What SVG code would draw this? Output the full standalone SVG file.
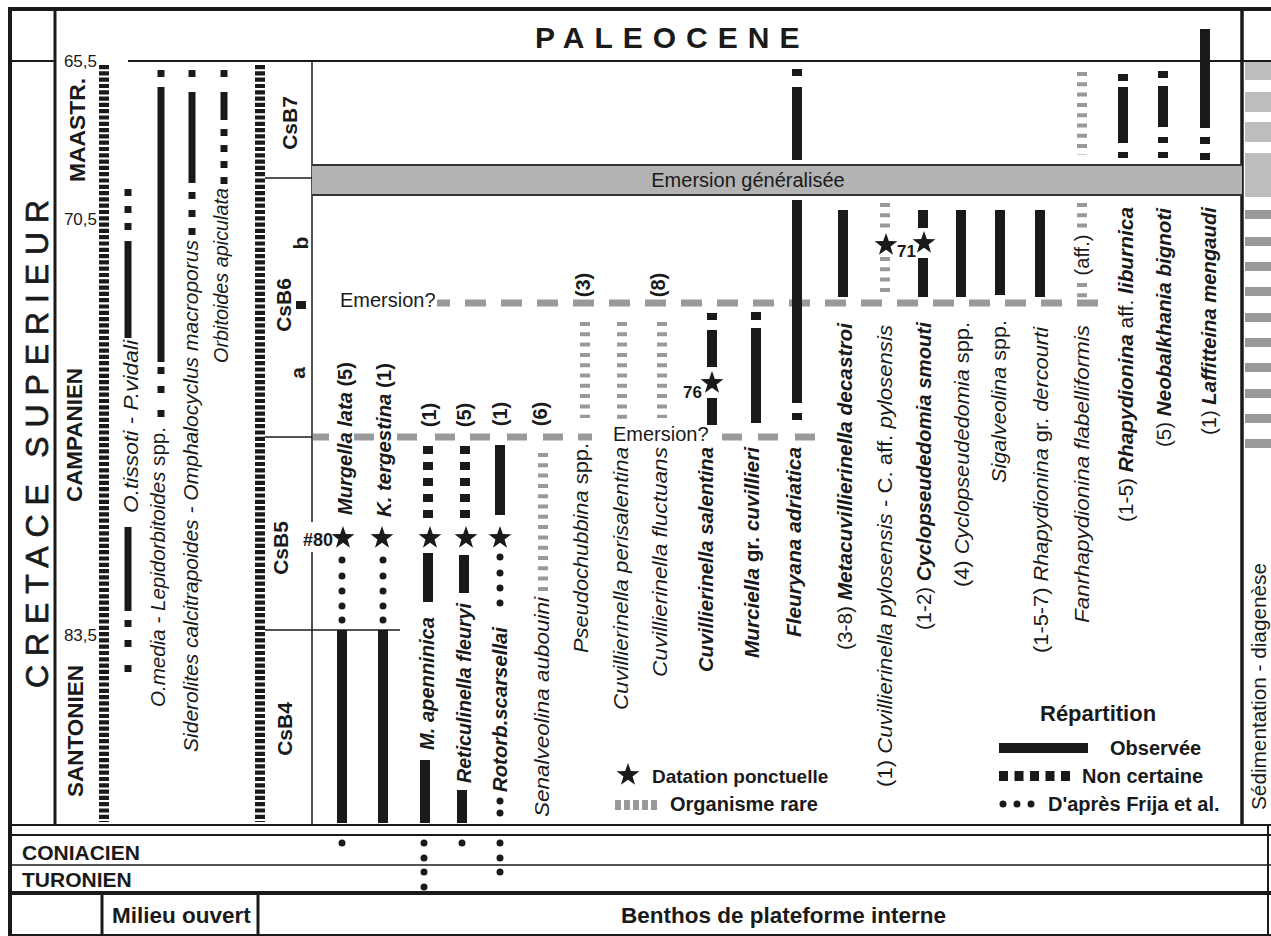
<svg xmlns="http://www.w3.org/2000/svg" width="1271" height="936" viewBox="0 0 1271 936">
<defs>
<style>
.f{font-family:"Liberation Sans",Arial,Helvetica,sans-serif;fill:#1a1a1a}
.ln{stroke:#1a1a1a;fill:none}
.k{fill:#1a1a1a}
.bd{stroke:#1a1a1a;stroke-width:10;stroke-dasharray:4.2 2.1;fill:none}
.gd{stroke:#999;stroke-width:10;stroke-dasharray:4 6.3;fill:none}
.em{stroke:#999;stroke-width:7;fill:none}
.lb{font-size:20px}
.i{font-style:italic}
.u{font-style:normal}
.b{font-weight:bold}
.r{font-weight:normal}
.st{font-size:22px;font-weight:bold}
.cs{font-size:21px;font-weight:bold}
</style>
<path id="star" d="M0,-12L2.82,-3.88L11.41,-3.71L4.57,1.48L7.05,9.71L0,4.8L-7.05,9.71L-4.57,1.48L-11.41,-3.71L-2.82,-3.88Z" fill="#1a1a1a"/>
</defs>
<rect width="1271" height="936" fill="#fff"/>

<g id="frame">
<line class="ln" x1="8" y1="9" x2="1271" y2="9" stroke-width="4"/>
<line class="ln" x1="10" y1="9" x2="10" y2="936" stroke-width="4"/>
<line class="ln" x1="55" y1="9" x2="55" y2="825" stroke-width="3"/>
<line class="ln" x1="10" y1="61" x2="55" y2="61" stroke-width="2"/>
<line class="ln" x1="128" y1="61" x2="1271" y2="61" stroke-width="1.8"/>
<line class="ln" x1="1242" y1="9" x2="1242" y2="825" stroke-width="3.5"/>
<line class="ln" x1="10" y1="825" x2="1271" y2="825" stroke-width="2"/>
<line class="ln" x1="10" y1="835" x2="1271" y2="835" stroke-width="2"/>
<line class="ln" x1="10" y1="865" x2="1271" y2="865" stroke-width="1.5"/>
<line class="ln" x1="10" y1="893" x2="1271" y2="893" stroke-width="4"/>
<line class="ln" x1="10" y1="935" x2="1271" y2="935" stroke-width="2"/>
<line class="ln" x1="102" y1="893" x2="102" y2="936" stroke-width="3"/>
<line class="ln" x1="258" y1="893" x2="258" y2="936" stroke-width="3"/>
<line class="ln" x1="1268" y1="825" x2="1268" y2="936" stroke-width="2"/>
<line class="ln" x1="312" y1="61" x2="312" y2="522" stroke-width="1.5"/>
<line class="ln" x1="312" y1="552" x2="312" y2="825" stroke-width="1.5"/>
<line class="ln" x1="265" y1="178" x2="312" y2="178" stroke-width="1.5"/>
<line class="ln" x1="265" y1="437" x2="312" y2="437" stroke-width="1.5"/>
<line class="ln" x1="265" y1="630" x2="400" y2="630" stroke-width="1.5"/>
</g>

<g id="titles">
<text class="f b" x="535" y="48" font-size="30" letter-spacing="10">PALEOCENE</text>
<text class="f" font-size="32" stroke="#1a1a1a" stroke-width="0.7" transform="translate(48,688) rotate(-90)" textLength="488" lengthAdjust="spacing">CRETACE SUPERIEUR</text>
<text class="f st" transform="translate(85,182) rotate(-90)" textLength="104" lengthAdjust="spacingAndGlyphs">MAASTR.</text>
<text class="f st" transform="translate(82,502) rotate(-90)" textLength="134" lengthAdjust="spacingAndGlyphs">CAMPANIEN</text>
<text class="f st" transform="translate(83,797) rotate(-90)" textLength="132" lengthAdjust="spacingAndGlyphs">SANTONIEN</text>
<text class="f" font-size="17" x="97" y="67" text-anchor="end">65,5</text>
<text class="f" font-size="17" x="97" y="225" text-anchor="end">70,5</text>
<text class="f" font-size="17" x="97" y="641" text-anchor="end">83,5</text>
<text class="f b" font-size="21" x="22" y="860">CONIACIEN</text>
<text class="f b" font-size="21" x="22" y="887">TURONIEN</text>
<text class="f b" font-size="22.5" x="112" y="923">Milieu ouvert</text>
<text class="f b" font-size="22.5" x="621" y="923">Benthos de plateforme interne</text>
</g>

<g id="csb-zones">
<text class="f cs" transform="translate(297,123) rotate(-90)" text-anchor="middle">CsB7</text>
<text class="f cs" transform="translate(291,305) rotate(-90)" text-anchor="middle">CsB6</text>
<text class="f cs" transform="translate(288,548) rotate(-90)" text-anchor="middle">CsB5</text>
<text class="f cs" transform="translate(292,729) rotate(-90)" text-anchor="middle">CsB4</text>
<text class="f cs" font-size="20" transform="translate(308,243) rotate(-90)" text-anchor="middle">b</text>
<text class="f cs" font-size="20" transform="translate(305,373) rotate(-90)" text-anchor="middle">a</text>
<rect class="k" x="296" y="301" width="10" height="8"/>
<text class="f b" font-size="18" x="303" y="546">#80</text>
</g>

<g id="emersion">
<rect x="312" y="165" width="930" height="30" fill="#b3b3b3"/>
<line x1="312" y1="165" x2="1242" y2="165" stroke="#333" stroke-width="2"/>
<line x1="312" y1="195" x2="1242" y2="195" stroke="#333" stroke-width="2"/>
<text class="f" font-size="20" x="748" y="187" text-anchor="middle" fill="#2a2a2a">Emersion généralisée</text>
</g>

<g id="connectors">
<path class="em" d="M437,303H1098" stroke-dasharray="21 15" stroke-dashoffset="8"/>
<path class="em" d="M313,437h16M354,437h20M397,437h20M435,437h20M470,437h20M507,437h20M543,437h20M578,437h14M722,437h20M758,437h20M795,437h20"/>
<text class="f" font-size="20" x="340" y="307">Emersion?</text>
<text class="f" font-size="20" x="613" y="441">Emersion?</text>
</g>

<g id="sediment">
<rect x="1245" y="62" width="26" height="18" fill="#bdbdbd"/>
<rect x="1245" y="92" width="26" height="20" fill="#bdbdbd"/>
<rect x="1245" y="122" width="26" height="20" fill="#bdbdbd"/>
<rect x="1245" y="153" width="26" height="44" fill="#bdbdbd"/>
<g fill="#999">
<rect x="1245" y="210" width="26" height="9"/><rect x="1245" y="237" width="26" height="9"/>
<rect x="1245" y="262" width="26" height="9"/><rect x="1245" y="287" width="26" height="9"/>
<rect x="1245" y="313" width="26" height="9"/><rect x="1245" y="338" width="26" height="9"/>
<rect x="1245" y="363" width="26" height="9"/><rect x="1245" y="389" width="26" height="9"/>
<rect x="1245" y="414" width="26" height="9"/><rect x="1245" y="439" width="26" height="9"/>
</g>
<text class="f" font-size="20" transform="translate(1266,810) rotate(-90)" textLength="247" lengthAdjust="spacingAndGlyphs">Sédimentation - diagenèse</text>
</g>

<g id="col-bigleft"><line class="bd" x1="104" y1="65" x2="104" y2="822"/></g>
<g id="col-bigright"><line class="bd" x1="260" y1="65" x2="260" y2="822"/></g>

<g id="col-otissoti">
<rect class="k" x="124.5" y="189" width="7" height="7"/><rect class="k" x="124.5" y="206" width="7" height="7"/><rect class="k" x="124.5" y="223" width="7" height="7"/>
<rect class="k" x="124.5" y="241" width="7" height="97"/>
<rect class="k" x="124.5" y="527" width="7" height="84"/>
<rect class="k" x="124.5" y="620" width="7" height="7"/><rect class="k" x="124.5" y="640" width="7" height="7"/><rect class="k" x="124.5" y="665" width="7" height="7"/>
<text class="f lb i" transform="translate(138,513) rotate(-90)" textLength="173" lengthAdjust="spacingAndGlyphs">O.tissoti - P.vidali</text>
</g>
<g id="col-omedia">
<rect class="k" x="157.5" y="70" width="7" height="7"/>
<rect class="k" x="157.5" y="87" width="7" height="275"/>
<rect class="k" x="157.5" y="367" width="7" height="7"/><rect class="k" x="157.5" y="386" width="7" height="7"/><rect class="k" x="157.5" y="410" width="7" height="7"/>
<text class="f lb i" transform="translate(165,707) rotate(-90)" textLength="280" lengthAdjust="spacingAndGlyphs">O.media - Lepidorbitoides <tspan class="u">spp.</tspan></text>
</g>
<g id="col-siderolites">
<rect class="k" x="188.5" y="70" width="7" height="7"/>
<rect class="k" x="188.5" y="92" width="7" height="91"/>
<rect class="k" x="188.5" y="192" width="7" height="7"/><rect class="k" x="188.5" y="210" width="7" height="7"/><rect class="k" x="188.5" y="228" width="7" height="7"/>
<text class="f lb i" transform="translate(198,752) rotate(-90)" textLength="512" lengthAdjust="spacingAndGlyphs">Siderolites calcitrapoides - Omphalocyclus macroporus</text>
</g>
<g id="col-orbitoides">
<rect class="k" x="220.5" y="70" width="7" height="7"/>
<rect class="k" x="220.5" y="92" width="7" height="28"/>
<rect class="k" x="220.5" y="129" width="7" height="7"/><rect class="k" x="220.5" y="145" width="7" height="7"/><rect class="k" x="220.5" y="161" width="7" height="7"/><rect class="k" x="220.5" y="177" width="7" height="7"/>
<text class="f lb i" transform="translate(228,363) rotate(-90)" textLength="175" lengthAdjust="spacingAndGlyphs">Orbitoides apiculata</text>
</g>

<g id="col-murgella">
<rect class="k" x="337" y="630" width="10" height="193"/>
<circle class="k" cx="342" cy="560" r="3.5"/><circle class="k" cx="342" cy="576" r="3.5"/><circle class="k" cx="342" cy="591" r="3.5"/><circle class="k" cx="342" cy="606" r="3.5"/><circle class="k" cx="342" cy="620" r="3.5"/>
<use href="#star" x="343" y="538"/>
<circle class="k" cx="342" cy="843" r="3.5"/>
<text class="f lb i b" transform="translate(352,515) rotate(-90)" textLength="153" lengthAdjust="spacingAndGlyphs">Murgella lata <tspan class="u">(5)</tspan></text>
</g>
<g id="col-ktergestina">
<rect class="k" x="378" y="630" width="10" height="193"/>
<circle class="k" cx="383" cy="560" r="3.5"/><circle class="k" cx="383" cy="576" r="3.5"/><circle class="k" cx="383" cy="591" r="3.5"/><circle class="k" cx="383" cy="606" r="3.5"/><circle class="k" cx="383" cy="620" r="3.5"/>
<use href="#star" x="382" y="538"/>
<text class="f lb i b" transform="translate(391,517) rotate(-90)" textLength="154" lengthAdjust="spacingAndGlyphs">K. tergestina <tspan class="u">(1)</tspan></text>
</g>
<g id="col-mapenninica">
<rect class="k" x="423" y="446" width="10" height="8"/><rect class="k" x="423" y="462" width="10" height="8"/><rect class="k" x="423" y="478" width="10" height="8"/><rect class="k" x="423" y="494" width="10" height="8"/><rect class="k" x="423" y="510" width="10" height="8"/>
<use href="#star" x="430" y="538"/>
<rect class="k" x="423" y="553" width="10" height="49"/>
<rect class="k" x="420" y="760" width="10" height="63"/>
<circle class="k" cx="424" cy="843" r="3.5"/><circle class="k" cx="424" cy="858" r="3.5"/><circle class="k" cx="424" cy="872" r="3.5"/><circle class="k" cx="424" cy="887" r="3.5"/>
<text class="f lb i b" transform="translate(434,750) rotate(-90)" textLength="133" lengthAdjust="spacingAndGlyphs">M. apenninica</text>
<text class="f lb b" transform="translate(436,415) rotate(-90)" text-anchor="middle">(1)</text>
</g>
<g id="col-reticulinella">
<rect class="k" x="460" y="446" width="10" height="8"/><rect class="k" x="460" y="462" width="10" height="8"/><rect class="k" x="460" y="478" width="10" height="8"/><rect class="k" x="460" y="494" width="10" height="8"/><rect class="k" x="460" y="510" width="10" height="8"/>
<use href="#star" x="466" y="538"/>
<rect class="k" x="459" y="555" width="10" height="38"/>
<rect class="k" x="457" y="790" width="10" height="33"/>
<circle class="k" cx="462" cy="843" r="3.5"/>
<text class="f lb i b" transform="translate(471,783) rotate(-90)" textLength="180" lengthAdjust="spacingAndGlyphs">Reticulinella fleuryi</text>
<text class="f lb b" transform="translate(471,415) rotate(-90)" text-anchor="middle">(5)</text>
</g>
<g id="col-rotorb">
<rect class="k" x="495" y="445" width="10" height="70"/>
<use href="#star" x="500" y="538"/>
<circle class="k" cx="500" cy="557" r="3.5"/><circle class="k" cx="500" cy="573" r="3.5"/><circle class="k" cx="500" cy="588" r="3.5"/><circle class="k" cx="500" cy="603" r="3.5"/>
<circle class="k" cx="500" cy="801" r="3.5"/><circle class="k" cx="500" cy="813" r="3.5"/>
<circle class="k" cx="500" cy="843" r="3.5"/><circle class="k" cx="500" cy="858" r="3.5"/><circle class="k" cx="500" cy="872" r="3.5"/>
<text class="f lb i b" transform="translate(507,792) rotate(-90)" textLength="165" lengthAdjust="spacingAndGlyphs">Rotorb.scarsellai</text>
<text class="f lb b" transform="translate(507,414) rotate(-90)" text-anchor="middle">(1)</text>
</g>
<g id="col-senalveolina">
<line class="gd" x1="543" y1="453" x2="543" y2="592"/>
<text class="f lb i" transform="translate(549,817) rotate(-90)" textLength="220" lengthAdjust="spacingAndGlyphs">Senalveolina aubouini</text>
<text class="f lb b" transform="translate(547,414) rotate(-90)" text-anchor="middle">(6)</text>
</g>
<g id="col-pseudochubbina">
<line class="gd" x1="585" y1="322" x2="585" y2="418"/>
<text class="f lb i" transform="translate(588,653) rotate(-90)" textLength="210" lengthAdjust="spacingAndGlyphs">Pseudochubbina <tspan class="u">spp.</tspan></text>
<text class="f lb b" transform="translate(590,285) rotate(-90)" text-anchor="middle">(3)</text>
</g>
<g id="col-perisalentina">
<line class="gd" x1="622" y1="322" x2="622" y2="420"/>
<text class="f lb i" transform="translate(628,710) rotate(-90)" textLength="263" lengthAdjust="spacingAndGlyphs">Cuvillierinella perisalentina</text>
</g>
<g id="col-fluctuans">
<line class="gd" x1="662" y1="322" x2="662" y2="418"/>
<text class="f lb i" transform="translate(667,677) rotate(-90)" textLength="230" lengthAdjust="spacingAndGlyphs">Cuvillierinella fluctuans</text>
<text class="f lb b" transform="translate(665,285) rotate(-90)" text-anchor="middle">(8)</text>
</g>
<g id="col-salentina">
<rect class="k" x="707" y="313" width="10" height="7"/>
<rect class="k" x="707" y="330" width="10" height="37"/>
<use href="#star" x="712" y="383"/>
<text class="f b" font-size="17" x="683" y="398">76</text>
<rect class="k" x="707" y="398" width="10" height="27"/>
<text class="f lb i b" transform="translate(713,672) rotate(-90)" textLength="225" lengthAdjust="spacingAndGlyphs">Cuvillierinella salentina</text>
</g>
<g id="col-murciella">
<rect class="k" x="751" y="312" width="10" height="8"/>
<rect class="k" x="751" y="328" width="10" height="95"/>
<text class="f lb i b" transform="translate(759,658) rotate(-90)" textLength="211" lengthAdjust="spacingAndGlyphs">Murciella <tspan class="u">gr.</tspan> cuvillieri</text>
</g>
<g id="col-fleuryana">
<rect class="k" x="792" y="69" width="10" height="7"/>
<rect class="k" x="792" y="87" width="10" height="73"/>
<rect class="k" x="792" y="200" width="10" height="203"/>
<rect class="k" x="792" y="413" width="10" height="7"/>
<text class="f lb i b" transform="translate(801,637) rotate(-90)" textLength="190" lengthAdjust="spacingAndGlyphs">Fleuryana adriatica</text>
</g>
<g id="col-metacuvillierinella">
<rect class="k" x="838" y="210" width="10" height="87"/>
<text class="f lb" transform="translate(852,650) rotate(-90)" textLength="327" lengthAdjust="spacingAndGlyphs">(3-8) <tspan class="i b">Metacuvillierinella decastroi</tspan></text>
</g>
<g id="col-pylosensis">
<line class="gd" x1="885" y1="203" x2="885" y2="234"/>
<line class="gd" x1="885" y1="257" x2="885" y2="298"/>
<use href="#star" x="886" y="245"/>
<text class="f lb" transform="translate(892,787) rotate(-90)" textLength="462" lengthAdjust="spacingAndGlyphs">(1) <tspan class="i">Cuvillierinella pylosensis</tspan> - C. aff. <tspan class="i">pylosensis</tspan></text>
</g>
<g id="col-smouti">
<rect class="k" x="918" y="210" width="10" height="18"/>
<use href="#star" x="924" y="243"/>
<text class="f b" font-size="17" x="897" y="257">71</text>
<rect class="k" x="918" y="258" width="10" height="39"/>
<text class="f lb" transform="translate(931,630) rotate(-90)" textLength="308" lengthAdjust="spacingAndGlyphs">(1-2) <tspan class="i b">Cyclopseudedomia smouti</tspan></text>
</g>
<g id="col-cyclopspp">
<rect class="k" x="956" y="210" width="10" height="87"/>
<text class="f lb" transform="translate(969,587) rotate(-90)" textLength="265" lengthAdjust="spacingAndGlyphs">(4) <tspan class="i">Cyclopseudedomia</tspan> spp.</text>
</g>
<g id="col-sigalveolina">
<rect class="k" x="995" y="210" width="10" height="85"/>
<text class="f lb" transform="translate(1006,483) rotate(-90)" textLength="163" lengthAdjust="spacingAndGlyphs"><tspan class="i">Sigalveolina</tspan> spp.</text>
</g>
<g id="col-dercourti">
<rect class="k" x="1035" y="210" width="10" height="87"/>
<text class="f lb" transform="translate(1048,653) rotate(-90)" textLength="326" lengthAdjust="spacingAndGlyphs">(1-5-7) <tspan class="i">Rhapydionina</tspan> gr. <tspan class="i">dercourti</tspan></text>
</g>
<g id="col-fanrhapydionina">
<line class="gd" x1="1082" y1="72" x2="1082" y2="155"/>
<line class="gd" x1="1082" y1="203" x2="1082" y2="230"/>
<line class="gd" x1="1082" y1="283" x2="1082" y2="298"/>
<text class="f lb" transform="translate(1089,255) rotate(-90)" text-anchor="middle">(aff.)</text>
<text class="f lb i" transform="translate(1089,623) rotate(-90)" textLength="298" lengthAdjust="spacingAndGlyphs">Fanrhapydionina flabelliformis</text>
</g>
<g id="col-liburnica">
<rect class="k" x="1118" y="74" width="10" height="7"/>
<rect class="k" x="1118" y="87" width="10" height="56"/>
<rect class="k" x="1118" y="152" width="10" height="6"/>
<text class="f lb" transform="translate(1133,522) rotate(-90)" textLength="315" lengthAdjust="spacingAndGlyphs">(1-5) <tspan class="i b">Rhapydionina</tspan> aff. <tspan class="i b">liburnica</tspan></text>
</g>
<g id="col-neobalkhania">
<rect class="k" x="1158" y="71" width="10" height="7"/>
<rect class="k" x="1158" y="86" width="10" height="41"/>
<rect class="k" x="1158" y="137" width="10" height="6"/>
<rect class="k" x="1158" y="152" width="10" height="6"/>
<text class="f lb" transform="translate(1171,447) rotate(-90)" textLength="239" lengthAdjust="spacingAndGlyphs">(5) <tspan class="i b">Neobalkhania bignoti</tspan></text>
</g>
<g id="col-laffitteina">
<rect class="k" x="1200" y="29" width="10" height="99"/>
<rect class="k" x="1200" y="137" width="10" height="7"/>
<rect class="k" x="1200" y="153" width="10" height="7"/>
<text class="f lb" transform="translate(1216,435) rotate(-90)" textLength="228" lengthAdjust="spacingAndGlyphs">(1) <tspan class="i b">Laffitteina mengaudi</tspan></text>
</g>

<g id="legend">
<use href="#star" x="628" y="775"/>
<text class="f b" font-size="19" x="652" y="783">Datation ponctuelle</text>
<line x1="615" y1="805" x2="660" y2="805" stroke="#999" stroke-width="10" stroke-dasharray="6 3"/>
<text class="f b" font-size="20" x="670" y="811">Organisme rare</text>
<text class="f b" font-size="22" x="1040" y="721">Répartition</text>
<rect class="k" x="999" y="743" width="89" height="10"/>
<text class="f b" font-size="20" x="1110" y="755">Observée</text>
<line x1="999" y1="776" x2="1070" y2="776" stroke="#1a1a1a" stroke-width="10" stroke-dasharray="9 6.5"/>
<text class="f b" font-size="20" x="1082" y="783">Non certaine</text>
<circle class="k" cx="1003" cy="804" r="3.5"/><circle class="k" cx="1017" cy="804" r="3.5"/><circle class="k" cx="1031" cy="804" r="3.5"/>
<text class="f b" font-size="20" x="1048" y="811">D'après Frija et al.</text>
</g>
</svg>
